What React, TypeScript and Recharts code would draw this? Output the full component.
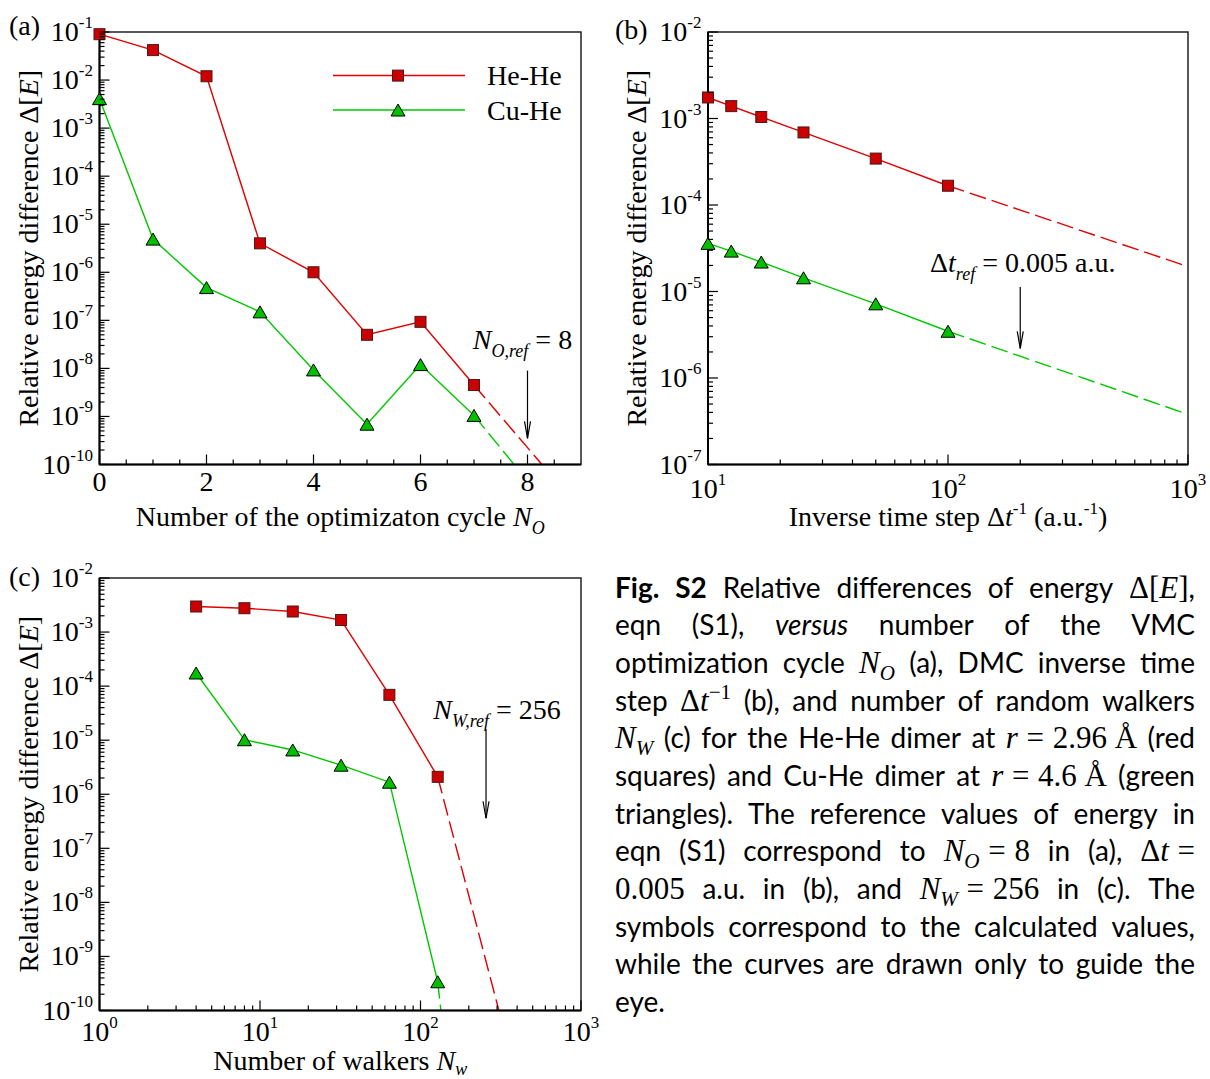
import React from "react";
import {
  LineChart,
  Line,
  XAxis,
  YAxis,
  ReferenceArea,
  ReferenceLine,
  ReferenceDot,
  Legend,
} from "recharts";

const SERIF = '"Liberation Serif", "Times New Roman", serif';
const SANS = 'Lato, "Open Sans", sans-serif';

const RED = "#e00000";
const RED_FILL = "#cc0000";
const GREEN = "#00c800";
const GREEN_FILL = "#00c000";

// (a) VMC optimization cycle
const CYCLES = [0, 1, 2, 3, 4, 5, 6, 7];
const CYCLE_HEHE = [9.0e-2, 4.2e-2, 1.2e-2, 4.0e-6, 1.0e-6, 5.0e-8, 9.3e-8, 4.5e-9];
const CYCLE_CUHE = [4.1e-3, 4.9e-6, 4.8e-7, 1.5e-7, 9.3e-9, 6.9e-10, 1.2e-8, 1.05e-9];
const CYCLE_TAIL_HEHE_X = [7, 8.27];
const CYCLE_TAIL_HEHE = [4.5e-9, 1e-10];
const CYCLE_TAIL_CUHE_X = [7, 7.75];
const CYCLE_TAIL_CUHE = [1.05e-9, 1e-10];
const CYCLE_TICKS = [0, 0.5, 1, 1.5, 2, 2.5, 3, 3.5, 4, 4.5, 5, 5.5, 6, 6.5, 7, 7.5, 8, 8.5];
const CYCLE_LABELS = [0, 2, 4, 6, 8];

// (b) DMC inverse time step
const INV_DT = [10, 12.5, 16.67, 25, 50, 100];
const DT_HEHE = [1.75e-3, 1.39e-3, 1.04e-3, 6.9e-4, 3.44e-4, 1.67e-4];
const DT_CUHE = [3.6e-5, 2.93e-5, 2.19e-5, 1.44e-5, 7.2e-6, 3.47e-6];
const DT_TAIL_X = [100, 1000];
const DT_TAIL_HEHE = [1.67e-4, 1.94e-5];
const DT_TAIL_CUHE = [3.47e-6, 3.8e-7];

// (c) number of walkers
const WALKERS = [4, 8, 16, 32, 64, 128];
const WALK_HEHE = [2.97e-3, 2.76e-3, 2.4e-3, 1.67e-3, 6.9e-5, 2.1e-6];
const WALK_CUHE = [1.75e-4, 1.02e-5, 6.6e-6, 3.45e-6, 1.67e-6, 3.4e-10];
const WALK_TAIL_HEHE_X = [128, 308];
const WALK_TAIL_HEHE = [2.1e-6, 1e-10];
const WALK_TAIL_CUHE_X = [128, 134];
const WALK_TAIL_CUHE = [3.4e-10, 1e-10];

const LEGEND_ITEMS = [
  { name: "He-He", color: RED },
  { name: "Cu-He", color: GREEN },
];

const GAP = 8;

function pts(xs: number[], ys: number[]) {
  return xs.map((x, i) => ({ x, y: ys[i] }));
}

function logTicks(lo: number, hi: number) {
  const out: number[] = [];
  for (let e = lo; e < hi; e++) for (let m = 1; m < 10; m++) out.push(m * Math.pow(10, e));
  out.push(Math.pow(10, hi));
  return out;
}

function decade(v: number) {
  const l = Math.log10(v);
  return Math.abs(l - Math.round(l)) < 1e-9 ? Math.round(l) : null;
}

function YTick(props: any) {
  const { x, y, payload } = props;
  const ax = x + GAP;
  const e = decade(payload.value);
  return (
    <g>
      <line x1={ax} x2={ax + (e !== null ? 10 : 5)} y1={y} y2={y} stroke="#000" strokeWidth={1.2} />
      {e !== null && (
        <text x={ax - 6.5} y={y + 9} textAnchor="end" fontFamily={SERIF} fontSize={28} fill="#000">
          10
          <tspan fontSize={17} dy={-13}>
            {`${e}`}
          </tspan>
        </text>
      )}
    </g>
  );
}

function XTick(props: any) {
  const { x, y, payload, log, labels, base } = props;
  const ay = y - GAP;
  const v = payload.value;
  const e = log ? decade(v) : null;
  const major = log ? e !== null : labels.includes(v);
  return (
    <g>
      <line x1={x} x2={x} y1={ay} y2={ay - (major ? 10 : 5)} stroke="#000" strokeWidth={1.2} />
      {major && (
        <text x={x} y={ay + base} textAnchor="middle" fontFamily={SERIF} fontSize={28} fill="#000">
          {log ? "10" : `${v}`}
          {log && (
            <tspan fontSize={17} dy={-13}>
              {`${e}`}
            </tspan>
          )}
        </text>
      )}
    </g>
  );
}

function Square({ cx, cy }: any) {
  return <rect x={cx - 5.5} y={cy - 5.5} width={11} height={11} fill={RED_FILL} stroke="#4a1a1a" strokeWidth={1} />;
}

function Triangle({ cx, cy }: any) {
  return (
    <path d={`M${cx - 7},${cy + 6} L${cx + 7},${cy + 6} L${cx},${cy - 6} Z`} fill={GREEN_FILL} stroke="#000" strokeWidth={1} />
  );
}

const squareDot = (p: any) => <Square key={`s${p.index}`} cx={p.cx} cy={p.cy} />;
const triDot = (p: any) => <Triangle key={`t${p.index}`} cx={p.cx} cy={p.cy} />;

function Arrow(props: any) {
  const { x1, y1, x2, y2 } = props;
  return (
    <g>
      <line x1={x1} y1={y1} x2={x2} y2={y2} stroke="#000" strokeWidth={1.2} />
      <path d={`M${x2 - 3},${y2 - 17} L${x2},${y2} L${x2 + 3},${y2 - 17}`} fill="none" stroke="#000" strokeWidth={1.2} />
    </g>
  );
}

function LegendBox() {
  return (
    <svg width={260} height={72}>
      {LEGEND_ITEMS.map((it, i) => {
        const y = 17.6 + i * 34.4;
        return (
          <g key={it.name}>
            <line x1={3} x2={135} y1={y} y2={y} stroke={it.color} strokeWidth={1.5} />
            {i === 0 ? <Square cx={68} cy={y} /> : <Triangle cx={68} cy={y} />}
            <text x={157} y={y + 9.5} fontFamily={SERIF} fontSize={28} fill="#000">
              {it.name}
            </text>
          </g>
        );
      })}
    </svg>
  );
}

function series(hehe: any[], cuhe: any[], tailHe: any[], tailCu: any[]) {
  return [
    <Line key="he" name="He-He" data={hehe} dataKey="y" stroke={RED} strokeWidth={1.4} dot={squareDot} activeDot={false} isAnimationActive={false} />,
    <Line key="cu" name="Cu-He" data={cuhe} dataKey="y" stroke={GREEN} strokeWidth={1.4} dot={triDot} activeDot={false} isAnimationActive={false} />,
    <Line key="het" name="He-He tail" legendType="none" data={tailHe} dataKey="y" stroke={RED} strokeWidth={1.4} strokeDasharray="17 6" dot={false} activeDot={false} isAnimationActive={false} />,
    <Line key="cut" name="Cu-He tail" legendType="none" data={tailCu} dataKey="y" stroke={GREEN} strokeWidth={1.4} strokeDasharray="17 6" dot={false} activeDot={false} isAnimationActive={false} />,
  ];
}

function annotation(x: number, yTop: number, yTip: number, yText: number, dx: number, text: React.ReactNode, key: string) {
  return [
    <ReferenceLine key={`${key}-arrow`} segment={[{ x, y: yTop }, { x, y: yTip }]} stroke="#000" shape={Arrow} />,
    <ReferenceDot
      key={`${key}-text`}
      x={x}
      y={yText}
      r={0}
      shape={(p: any) => (
        <text x={p.cx + dx} y={p.cy} textAnchor="middle" fontFamily={SERIF} fontSize={28} fill="#000">
          {text}
        </text>
      )}
    />,
  ];
}

type PanelProps = {
  left: number;
  top: number;
  width: number;
  height: number;
  yAxisWidth: number;
  marginRight: number;
  xAxisHeight: number;
  xDomain: [number, number];
  yDomain: [number, number];
  xLog: boolean;
  xTicks: number[];
  xLabels?: number[];
  xBase: number;
  yTicks: number[];
  letter: string;
  letterX: number;
  letterY: number;
  yTitleX: number;
  xTitleY: number;
  xTitle: React.ReactNode;
  children: React.ReactNode;
};

function Panel(p: PanelProps) {
  const plotTop = 32;
  const plotBottom = p.height - p.xAxisHeight;
  const plotCx = (p.yAxisWidth + p.width - p.marginRight) / 2;
  const plotCy = (plotTop + plotBottom) / 2;
  return (
    <div style={{ position: "absolute", left: p.left, top: p.top, width: p.width, height: p.height }}>
      <LineChart width={p.width} height={p.height} margin={{ top: plotTop, right: p.marginRight, bottom: 0, left: 0 }}>
        <XAxis
          type="number"
          dataKey="x"
          scale={p.xLog ? "log" : "linear"}
          domain={p.xDomain}
          ticks={p.xTicks}
          interval={0}
          height={p.xAxisHeight}
          tickSize={0}
          tickMargin={GAP}
          tickLine={false}
          axisLine={{ stroke: "#000", strokeWidth: 2 }}
          tick={<XTick log={p.xLog} labels={p.xLabels || []} base={p.xBase} />}
        />
        <YAxis
          type="number"
          scale="log"
          domain={p.yDomain}
          ticks={p.yTicks}
          interval={0}
          width={p.yAxisWidth}
          tickSize={0}
          tickMargin={GAP}
          tickLine={false}
          axisLine={{ stroke: "#000", strokeWidth: 2 }}
          tick={<YTick />}
        />
        <ReferenceArea
          x1={p.xDomain[0]}
          x2={p.xDomain[1]}
          y1={p.yDomain[0]}
          y2={p.yDomain[1]}
          fill="none"
          fillOpacity={0}
          stroke="#222"
          strokeWidth={1.5}
        />
        {p.children}
      </LineChart>
      <svg width={p.width} height={p.height} style={{ position: "absolute", left: 0, top: 0, pointerEvents: "none" }}>
        <text x={p.letterX} y={p.letterY} fontFamily={SERIF} fontSize={28} fill="#000">
          {p.letter}
        </text>
        <text
          x={p.yTitleX}
          y={plotCy}
          textAnchor="middle"
          dominantBaseline="central"
          transform={`rotate(-90 ${p.yTitleX} ${plotCy})`}
          fontFamily={SERIF}
          fontSize={28}
          fill="#000"
        >
          Relative energy difference Δ[<tspan fontStyle="italic">E</tspan>]
        </text>
        <text x={plotCx} y={p.xTitleY} textAnchor="middle" fontFamily={SERIF} fontSize={28} fill="#000">
          {p.xTitle}
        </text>
      </svg>
    </div>
  );
}

function M({ children }: { children: React.ReactNode }) {
  return <span style={{ fontFamily: SERIF, fontSize: 31 }}>{children}</span>;
}
function I({ children }: { children: React.ReactNode }) {
  return <span style={{ fontStyle: "italic" }}>{children}</span>;
}
function Sub({ children }: { children: React.ReactNode }) {
  return <span style={{ fontSize: "0.68em", fontStyle: "italic", position: "relative", top: "0.32em" }}>{children}</span>;
}
function Eq({ trail }: { trail?: boolean }) {
  return <span style={{ margin: trail ? "0 0 0 0.28em" : "0 0.28em" }}>=</span>;
}

const CAPTION: React.ReactNode[][] = [
  [<b>Fig.</b>, <b>S2</b>, "Relative", "differences", "of", "energy", <span><M>Δ[<I>E</I>]</M>,</span>],
  ["eqn", "(S1),", <I>versus</I>, "number", "of", "the", "VMC"],
  ["optimization", "cycle", <M><I>N</I><Sub>O</Sub></M>, "(a),", "DMC", "inverse", "time"],
  [
    "step",
    <M>
      Δ<I>t</I>
      <span style={{ fontSize: "0.68em", position: "relative", top: "-0.55em" }}>−1</span>
    </M>,
    "(b),", "and", "number", "of", "random", "walkers",
  ],
  [<M><I>N</I><Sub>W</Sub></M>, "(c)", "for", "the", "He-He", "dimer", "at", <M><I>r</I><Eq />2.96 Å</M>, "(red"],
  ["squares)", "and", "Cu-He", "dimer", "at", <M><I>r</I><Eq />4.6 Å</M>, "(green"],
  ["triangles).", "The", "reference", "values", "of", "energy", "in"],
  ["eqn", "(S1)", "correspond", "to", <M><I>N</I><Sub>O</Sub><Eq />8</M>, "in", "(a),", <M>Δ<I>t</I><Eq trail /></M>],
  [<M>0.005</M>, "a.u.", "in", "(b),", "and", <M><I>N</I><Sub>W</Sub><Eq />256</M>, "in", "(c).", "The"],
  ["symbols", "correspond", "to", "the", "calculated", "values,"],
  ["while", "the", "curves", "are", "drawn", "only", "to", "guide", "the"],
  ["eye."],
];

function Caption() {
  return (
    <div
      style={{
        position: "absolute",
        left: 615,
        top: 568.5,
        width: 580,
        fontFamily: SANS,
        fontSize: 28,
        lineHeight: "37.7px",
        color: "#000",
      }}
    >
      {CAPTION.map((words, i) => (
        <div
          key={i}
          style={{
            display: "flex",
            justifyContent: i === CAPTION.length - 1 ? "flex-start" : "space-between",
            columnGap: 6,
            whiteSpace: "nowrap",
            height: 37.7,
            alignItems: "baseline",
          }}
        >
          {words.map((w, j) => (
            <span key={j}>{w}</span>
          ))}
        </div>
      ))}
    </div>
  );
}

const Y_TICKS_A = logTicks(-10, -1);
const Y_TICKS_B = logTicks(-7, -2);
const Y_TICKS_C = logTicks(-10, -2);
const X_TICKS_B = logTicks(1, 3);
const X_TICKS_C = logTicks(0, 3);

export default function App() {
  return (
    <div style={{ position: "absolute", left: 0, top: 0, width: 1210, height: 1079, background: "#fff", overflow: "hidden" }}>
      <Panel
        left={0}
        top={0}
        width={600}
        height={540}
        yAxisWidth={99.5}
        marginRight={19}
        xAxisHeight={75.5}
        xDomain={[0, 9]}
        yDomain={[1e-10, 1e-1]}
        xLog={false}
        xTicks={CYCLE_TICKS}
        xLabels={CYCLE_LABELS}
        xBase={26}
        yTicks={Y_TICKS_A}
        letter="(a)"
        letterX={9}
        letterY={35}
        yTitleX={28}
        xTitleY={526}
        xTitle={
          <>
            Number of the optimizaton cycle <tspan fontStyle="italic">N</tspan>
            <tspan fontStyle="italic" fontSize={18} dy={8}>O</tspan>
          </>
        }
      >
        {series(pts(CYCLES, CYCLE_HEHE), pts(CYCLES, CYCLE_CUHE), pts(CYCLE_TAIL_HEHE_X, CYCLE_TAIL_HEHE), pts(CYCLE_TAIL_CUHE_X, CYCLE_TAIL_CUHE))}
        <Legend
          layout="vertical"
          align="center"
          verticalAlign="middle"
          wrapperStyle={{ left: 330, top: 58, width: 260, height: 72 }}
          content={LegendBox}
        />
        {annotation(
          8,
          9e-9,
          3.5e-10,
          2.55e-8,
          -5,
          <>
            <tspan fontStyle="italic">N</tspan>
            <tspan fontStyle="italic" fontSize={18} dy={8}>O,ref</tspan>
            <tspan dy={-8}> = 8</tspan>
          </>,
          "a"
        )}
      </Panel>

      <Panel
        left={600}
        top={0}
        width={610}
        height={540}
        yAxisWidth={108}
        marginRight={22}
        xAxisHeight={75.5}
        xDomain={[10, 1000]}
        yDomain={[1e-7, 1e-2]}
        xLog
        xTicks={X_TICKS_B}
        xBase={33.5}
        yTicks={Y_TICKS_B}
        letter="(b)"
        letterX={15}
        letterY={39}
        yTitleX={36}
        xTitleY={526}
        xTitle={
          <>
            Inverse time step Δ<tspan fontStyle="italic">t</tspan>
            <tspan fontSize={17} dy={-12}>-1</tspan>
            <tspan dy={12}> (a.u.</tspan>
            <tspan fontSize={17} dy={-12}>-1</tspan>
            <tspan dy={12}>)</tspan>
          </>
        }
      >
        {series(pts(INV_DT, DT_HEHE), pts(INV_DT, DT_CUHE), pts(DT_TAIL_X, DT_TAIL_HEHE), pts(DT_TAIL_X, DT_TAIL_CUHE))}
        {annotation(
          200,
          1.13e-5,
          2.2e-6,
          1.68e-5,
          2.5,
          <>
            Δ<tspan fontStyle="italic">t</tspan>
            <tspan fontStyle="italic" fontSize={18} dy={8}>ref</tspan>
            <tspan dy={-8}> = 0.005 a.u.</tspan>
          </>,
          "b"
        )}
      </Panel>

      <Panel
        left={0}
        top={546}
        width={600}
        height={533}
        yAxisWidth={99.5}
        marginRight={19}
        xAxisHeight={68.5}
        xDomain={[1, 1000]}
        yDomain={[1e-10, 1e-2]}
        xLog
        xTicks={X_TICKS_C}
        xBase={30.5}
        yTicks={Y_TICKS_C}
        letter="(c)"
        letterX={9}
        letterY={40}
        yTitleX={28}
        xTitleY={524}
        xTitle={
          <>
            Number of walkers <tspan fontStyle="italic">N</tspan>
            <tspan fontStyle="italic" fontSize={18} dy={5}>w</tspan>
          </>
        }
      >
        {series(pts(WALKERS, WALK_HEHE), pts(WALKERS, WALK_CUHE), pts(WALK_TAIL_HEHE_X, WALK_TAIL_HEHE), pts(WALK_TAIL_CUHE_X, WALK_TAIL_CUHE))}
        {annotation(
          256,
          1.6e-5,
          3.6e-7,
          2.45e-5,
          11,
          <>
            <tspan fontStyle="italic">N</tspan>
            <tspan fontStyle="italic" fontSize={18} dy={8}>W,ref</tspan>
            <tspan dy={-8}> = 256</tspan>
          </>,
          "c"
        )}
      </Panel>

      <Caption />
    </div>
  );
}
